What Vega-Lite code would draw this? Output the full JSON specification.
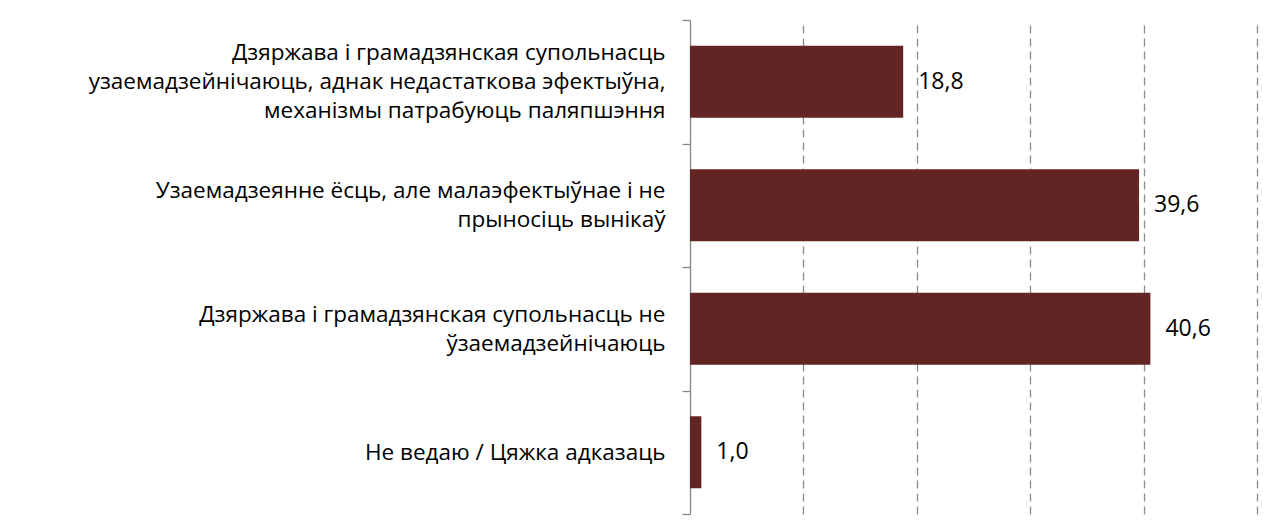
{
  "$schema": "https://vega.github.io/schema/vega-lite/v6.json",
  "autosize": {"type": "none"},
  "padding": {"left": 690, "top": 20, "right": 17, "bottom": 6},
  "width": 567,
  "height": 494,
  "background": "white",
  "config": {
    "view": {"stroke": null},
    "locale": {"number": {"decimal": ",", "thousands": " ", "grouping": [3], "currency": ["", ""]}}
  },
  "data": {
    "values": [
      {"label": "Дзяржава і грамадзянская супольнасць|узаемадзейнічаюць, аднак недастаткова эфектыўна,|механізмы патрабуюць паляпшэння", "value": 18.8},
      {"label": "Узаемадзеянне ёсць, але малаэфектыўнае і не|прыносіць вынікаў", "value": 39.6},
      {"label": "Дзяржава і грамадзянская супольнасць не|ўзаемадзейнічаюць", "value": 40.6},
      {"label": "Не ведаю / Цяжка адказаць", "value": 1.0}
    ]
  },
  "encoding": {
    "y": {
      "field": "label",
      "type": "nominal",
      "sort": null,
      "scale": {"paddingInner": 0, "paddingOuter": 0},
      "axis": {
        "title": null,
        "labelExpr": "split(datum.label, '|')",
        "labelFont": "Open Sans",
        "labelFontSize": 22.5,
        "labelColor": "#000000",
        "labelLineHeight": 29,
        "labelLimit": 700,
        "labelPadding": 17,
        "labelAlign": "right",
        "labelBaseline": "middle",
        "labelOffset": {
          "condition": [
            {"test": "length(split(datum.value, '|')) == 3", "value": -29},
            {"test": "length(split(datum.value, '|')) == 2", "value": -14.5}
          ],
          "value": 0
        },
        "tickBand": "extent",
        "tickSize": 8,
        "tickColor": "#868686",
        "tickWidth": 1.3,
        "domainColor": "#868686",
        "domainWidth": 1.3,
        "grid": false
      }
    },
    "x": {
      "field": "value",
      "type": "quantitative",
      "scale": {"domain": [0, 50], "nice": false},
      "axis": {
        "title": null,
        "values": [10, 20, 30, 40, 50],
        "labels": false,
        "ticks": false,
        "domain": false,
        "grid": true,
        "gridColor": "#8c8c8c",
        "gridDash": [8, 5],
        "gridWidth": 1.3
      }
    }
  },
  "layer": [
    {"mark": {"type": "bar", "color": "#632523", "height": {"band": 0.583}}},
    {
      "mark": {"type": "text", "align": "left", "baseline": "middle", "dx": 15, "font": "Open Sans", "fontSize": 23, "color": "#000000"},
      "encoding": {"text": {"field": "value", "type": "quantitative", "format": ".1f"}}
    }
  ]
}
